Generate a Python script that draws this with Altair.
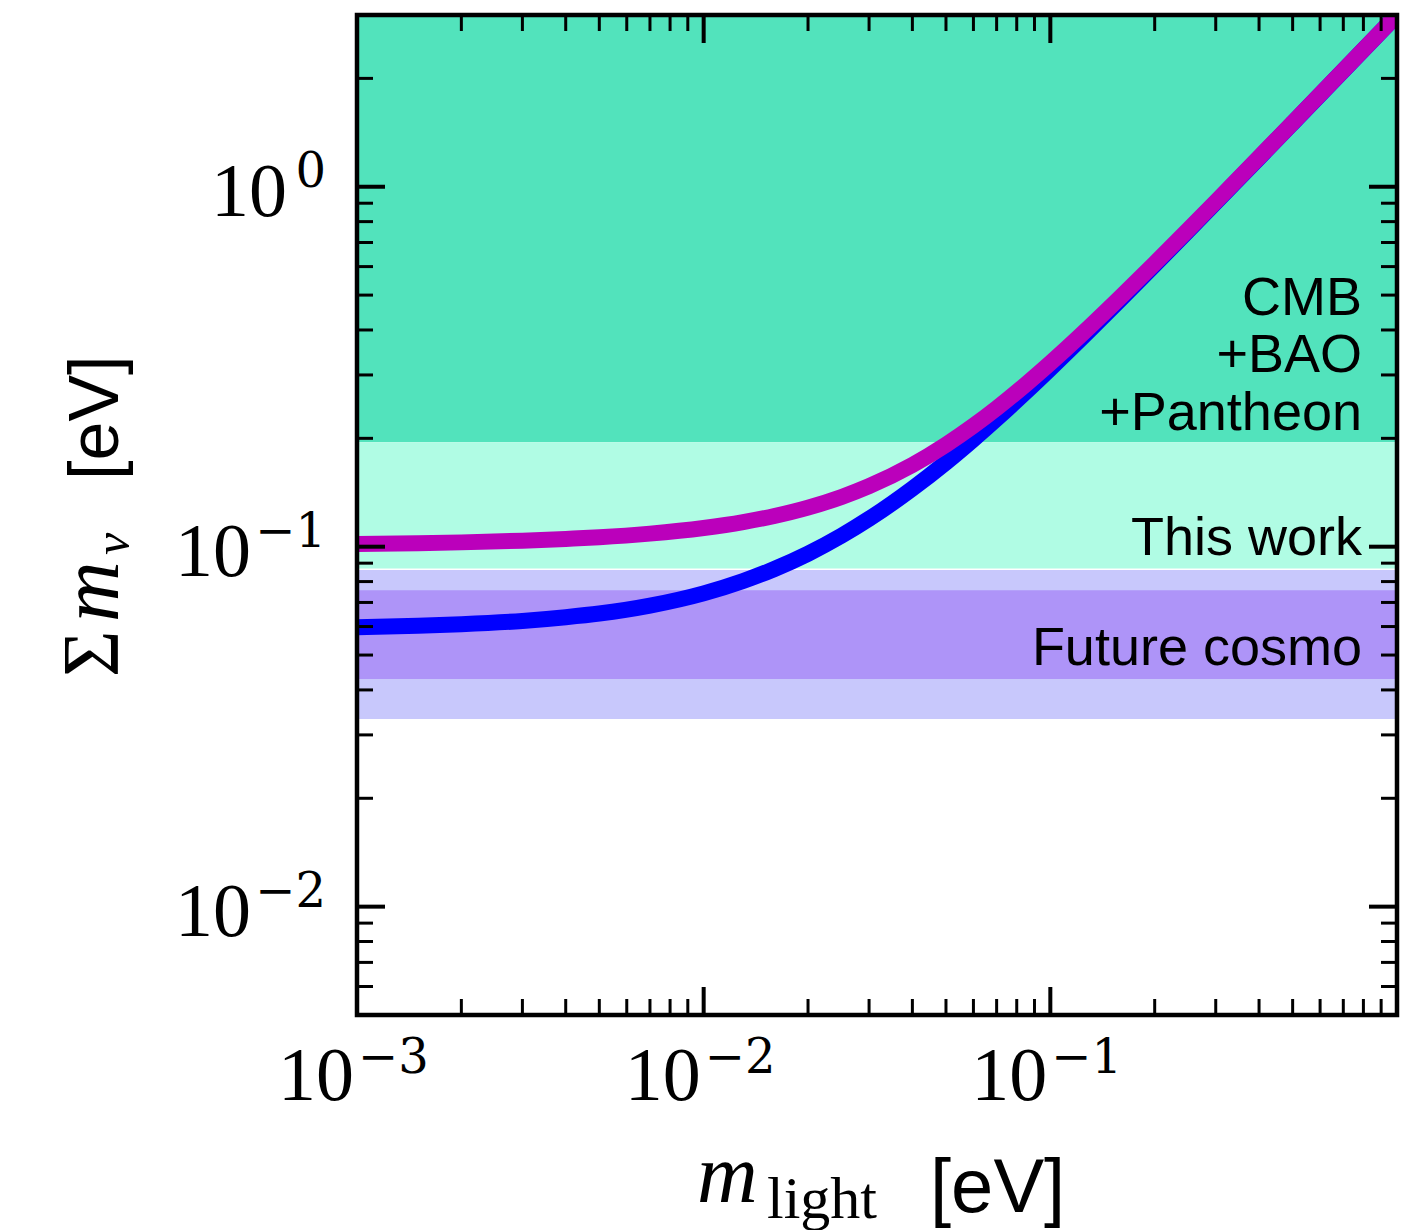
import altair as alt
import pandas as pd

W, H = 1040, 1000

# ---- data ----
m_light = [0.001, 0.0015, 0.002, 0.003, 0.004, 0.005, 0.007, 0.01, 0.013, 0.016,
           0.02, 0.025, 0.03, 0.04, 0.05, 0.06, 0.07, 0.085, 0.1, 0.13,
           0.16, 0.2, 0.25, 0.3, 0.4, 0.5, 0.7, 1.0]
sum_nh = [0.0597, 0.0603, 0.0609, 0.0622, 0.0637, 0.0652, 0.0686, 0.0742, 0.0803, 0.0867,
          0.0956, 0.1073, 0.1195, 0.1450, 0.1714, 0.1987, 0.2266, 0.2691, 0.3122, 0.3996,
          0.4879, 0.6063, 0.7551, 0.9043, 1.2032, 1.5026, 2.1018, 3.0013]
sum_ih = [0.1018, 0.1023, 0.1028, 0.1039, 0.1051, 0.1062, 0.1087, 0.1127, 0.1170, 0.1217,
          0.1284, 0.1375, 0.1473, 0.1686, 0.1920, 0.2167, 0.2425, 0.2826, 0.3239, 0.4088,
          0.4955, 0.6125, 0.7601, 0.9084, 1.2063, 1.5051, 2.1036, 3.0025]

band_names = ["CMB+BAO+Pantheon", "This work", "Future cosmo outer", "Future cosmo inner"]
band_lo = [0.195, 0.0870, 0.0332, 0.0429]
band_hi = [3.0, 0.195, 0.0862, 0.0757]
band_colors = ["#52e3bc", "#b0fce4", "#c8c8fc", "#ae94f8"]

x_major = [0.001, 0.01, 0.1, 1.0]
x_minor = [0.002, 0.003, 0.004, 0.005, 0.006, 0.007, 0.008, 0.009,
           0.02, 0.03, 0.04, 0.05, 0.06, 0.07, 0.08, 0.09,
           0.2, 0.3, 0.4, 0.5, 0.6, 0.7, 0.8, 0.9]
y_major = [0.01, 0.1, 1.0]
y_minor = [0.006, 0.007, 0.008, 0.009,
           0.02, 0.03, 0.04, 0.05, 0.06, 0.07, 0.08, 0.09,
           0.2, 0.3, 0.4, 0.5, 0.6, 0.7, 0.8, 0.9, 2.0, 3.0]

x_label_vals = [0.001, 0.01, 0.1]
x_label_exp = ["\u22123", "\u22122", "\u22121"]
y_label_vals = [0.01, 0.1, 1.0]
y_label_exp = ["\u22122", "\u22121", "0"]

# ---- scales ----
xs = alt.Scale(type="log", domain=[0.001, 1.0], nice=False)
ys = alt.Scale(type="log", domain=[0.005, 3.0], nice=False)

SERIF = "Liberation Serif"
SANS = "Liberation Sans"

bands_df = pd.DataFrame({"name": band_names, "lo": band_lo, "hi": band_hi})
bands = alt.Chart(bands_df).mark_rect(strokeWidth=0).encode(
    x=alt.value(0), x2=alt.value(W),
    y=alt.Y("lo:Q", scale=ys, axis=None), y2="hi:Q",
    color=alt.Color("name:N", scale=alt.Scale(domain=band_names, range=band_colors), legend=None),
)

curves_df = pd.DataFrame({"m": m_light, "nh": sum_nh, "ih": sum_ih})
line_nh = alt.Chart(curves_df).mark_line(color="#0000ff", strokeWidth=16, clip=True,
                                         interpolate="monotone").encode(
    x=alt.X("m:Q", scale=xs, axis=None), y=alt.Y("nh:Q", scale=ys, axis=None))
line_ih = alt.Chart(curves_df).mark_line(color="#bb00bb", strokeWidth=16, clip=True,
                                         interpolate="monotone").encode(
    x=alt.X("m:Q", scale=xs, axis=None), y=alt.Y("ih:Q", scale=ys, axis=None))


def xticks(vals, length, sw):
    df = pd.DataFrame({"v": vals})
    b = alt.Chart(df).mark_rule(color="black", strokeWidth=sw).encode(
        x=alt.X("v:Q", scale=xs, axis=None), y=alt.value(H), y2=alt.value(H - length))
    t = alt.Chart(df).mark_rule(color="black", strokeWidth=sw).encode(
        x=alt.X("v:Q", scale=xs, axis=None), y=alt.value(0), y2=alt.value(length))
    return [b, t]


def yticks(vals, length, sw):
    df = pd.DataFrame({"v": vals})
    l = alt.Chart(df).mark_rule(color="black", strokeWidth=sw).encode(
        y=alt.Y("v:Q", scale=ys, axis=None), x=alt.value(0), x2=alt.value(length))
    r = alt.Chart(df).mark_rule(color="black", strokeWidth=sw).encode(
        y=alt.Y("v:Q", scale=ys, axis=None), x=alt.value(W), x2=alt.value(W - length))
    return [l, r]


ticks = (xticks(x_major, 28, 4) + xticks(x_minor, 16, 3)
         + yticks(y_major, 28, 4) + yticks(y_minor, 16, 3))

frame = alt.Chart(pd.DataFrame({"a": [0]})).mark_rect(
    fillOpacity=0, stroke="black", strokeWidth=4.5).encode(
    x=alt.value(0), x2=alt.value(W), y=alt.value(0), y2=alt.value(H))

# tick labels
xl_df = pd.DataFrame({"v": x_label_vals, "e": x_label_exp})
xl_base = alt.Chart(xl_df).mark_text(text="10", align="right", dx=-3, font=SERIF,
                                     fontSize=76, baseline="alphabetic", color="black").encode(
    x=alt.X("v:Q", scale=xs, axis=None), y=alt.value(1085))
xl_exp = alt.Chart(xl_df).mark_text(align="left", dx=1, font="DejaVu Serif",
                                    fontSize=48, baseline="alphabetic", color="black").encode(
    x=alt.X("v:Q", scale=xs, axis=None), y=alt.value(1058), text="e:N")

yl_df = pd.DataFrame({"v": y_label_vals, "e": y_label_exp})
yl_exp = alt.Chart(yl_df).mark_text(align="right", font="DejaVu Serif", fontSize=48,
                                    baseline="alphabetic", color="black").encode(
    y=alt.Y("v:Q", scale=ys, axis=None), x=alt.value(-31), text="e:N")
yl_base_neg = alt.Chart(yl_df).transform_filter(alt.datum.v < 0.5).mark_text(
    text="10", align="right", dy=29, font=SERIF, fontSize=76, baseline="alphabetic",
    color="black").encode(y=alt.Y("v:Q", scale=ys, axis=None), x=alt.value(-106))
yl_base_pos = alt.Chart(yl_df).transform_filter(alt.datum.v > 0.5).mark_text(
    text="10", align="right", dy=29, font=SERIF, fontSize=76, baseline="alphabetic",
    color="black").encode(y=alt.Y("v:Q", scale=ys, axis=None), x=alt.value(-70))

one = pd.DataFrame({"a": [0]})


def txt(s, x, y, size, font, align="left", angle=0, style="normal"):
    return alt.Chart(one).mark_text(text=s, align=align, baseline="alphabetic", angle=angle,
                                    fontSize=size, font=font, fontStyle=style,
                                    color="black").encode(x=alt.value(x), y=alt.value(y))


texts = [
    txt("CMB", 1005, 300, 54, SANS, align="right"),
    txt("+BAO", 1005, 357, 54, SANS, align="right"),
    txt("+Pantheon", 1005, 415, 54, SANS, align="right"),
    txt("This work", 1005, 540, 54, SANS, align="right"),
    txt("Future cosmo", 1005, 650, 54, SANS, align="right"),
    # x title
    txt("m", 340, 1187, 84, SERIF, style="italic"),
    txt("light", 410, 1203, 60, SERIF),
    txt("[eV]", 573, 1197, 76, SANS),
    # y title (rotated)
    txt("\u03a3", -239, 662, 80, SERIF, angle=270),
    txt("m", -239, 607, 84, SERIF, angle=270, style="italic"),
    txt("\u03bd", -228, 540, 50, SERIF, angle=270, style="italic"),
    txt("[eV]", -239, 465, 70, SANS, angle=270),
]

chart = alt.layer(
    bands, line_nh, line_ih, *ticks, frame,
    xl_base, xl_exp, yl_exp, yl_base_neg, yl_base_pos, *texts
).properties(
    width=W, height=H,
    padding={"left": 357, "top": 15, "right": 13, "bottom": 215},
    autosize=alt.AutoSizeParams(type="none"),
    background="white",
).configure_view(strokeWidth=0)

chart.save("out.html", embed_options={"renderer": "svg", "actions": False})
